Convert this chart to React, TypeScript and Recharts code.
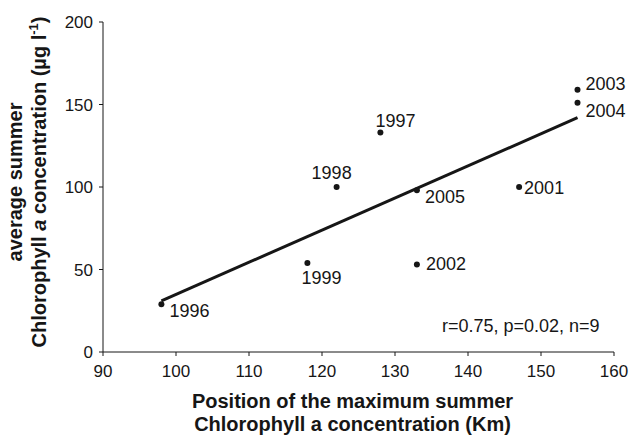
import { ScatterChart, Scatter, XAxis, YAxis, Label } from 'recharts';

const years = ['1996', '1997', '1998', '1999', '2001', '2002', '2003', '2004', '2005'];
const positionKm = [98, 128, 122, 118, 147, 133, 155, 155, 133];
const chlorophyll = [29, 133, 100, 54, 100, 53, 159, 151, 98];

const trendX = [98, 155];
const trendY = [31, 142];

const xTicks = [90, 100, 110, 120, 130, 140, 150, 160];
const yTicks = [0, 50, 100, 150, 200];

const FONT = '"Liberation Sans", Arial, sans-serif';
const INK = '#161616';

// where each year label sits relative to its dot (text start, baseline)
const labelOffset: Record<string, [number, number]> = {
  '1996': [8, 13],
  '1997': [-5, -6],
  '1998': [-25, -8],
  '1999': [-6, 21],
  '2001': [5, 7],
  '2002': [9, 5],
  '2003': [8, 0],
  '2004': [8, 14],
  '2005': [8, 13],
};

const points = years.map((year, i) => ({ year, x: positionKm[i], y: chlorophyll[i] }));
const trend = trendX.map((x, i) => ({ x, y: trendY[i] }));

function YearDot(props: any) {
  const { cx, cy, payload } = props;
  const [dx, dy] = labelOffset[payload.year] || [6, 5];
  return (
    <g>
      <circle cx={cx} cy={cy} r={3} fill={INK} />
      <text x={cx + dx} y={cy + dy} fontSize={18} fontFamily={FONT} fill={INK}>
        {payload.year}
      </text>
    </g>
  );
}

function XTitle(props: any) {
  const { viewBox } = props;
  const cx = viewBox.x + viewBox.width / 2 - 6;
  return (
    <text textAnchor="middle" fontSize={20} fontWeight="bold" fontFamily={FONT} fill={INK}>
      <tspan x={cx} y={408}>Position of the maximum summer</tspan>
      <tspan x={cx} y={431}>Chlorophyll a concentration (Km)</tspan>
    </text>
  );
}

function YTitle() {
  const cy = 182;
  return (
    <g>
      <text transform={`translate(22, ${cy}) rotate(-90)`} textAnchor="middle" fontSize={20} fontWeight="bold" fontFamily={FONT} fill={INK}>
        average summer
      </text>
      <text transform={`translate(46, ${cy}) rotate(-90)`} textAnchor="middle" fontSize={20} fontWeight="bold" fontFamily={FONT} fill={INK}>
        Chlorophyll <tspan fontStyle="italic">a</tspan> concentration (µg l
        <tspan fontSize={13} dy={-8}>-1</tspan>
        <tspan dy={8}>)</tspan>
      </text>
    </g>
  );
}

export default function App() {
  return (
    <div style={{ position: 'absolute', left: 0, top: 0, width: 632, height: 437, background: '#fff' }}>
      <ScatterChart width={632} height={437} margin={{ top: 22, right: 18, bottom: 0, left: 0 }}>
        <XAxis
          type="number"
          dataKey="x"
          domain={[90, 160]}
          ticks={xTicks}
          height={85}
          tickSize={4}
          tickMargin={9}
          stroke={INK}
          tick={{ fontSize: 17, fontFamily: FONT, fill: INK }}
        >
          <Label content={<XTitle />} />
        </XAxis>
        <YAxis
          type="number"
          dataKey="y"
          domain={[0, 200]}
          ticks={yTicks}
          width={103}
          tickSize={4}
          tickMargin={6}
          stroke={INK}
          tick={{ fontSize: 17, fontFamily: FONT, fill: INK }}
        >
          <Label content={<YTitle />} />
        </YAxis>
        <Scatter
          data={trend}
          line={{ stroke: INK, strokeWidth: 3 }}
          shape={() => <g />}
          isAnimationActive={false}
        />
        <Scatter data={points} shape={<YearDot />} isAnimationActive={false} />
        <text x={442} y={332} fontSize={18} fontFamily={FONT} fill={INK}>
          r=0.75, p=0.02, n=9
        </text>
      </ScatterChart>
    </div>
  );
}
